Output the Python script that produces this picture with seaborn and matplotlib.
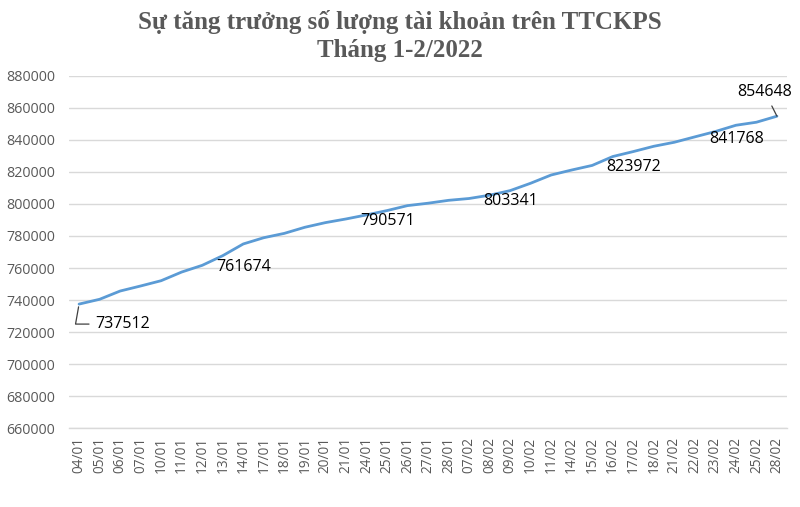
import matplotlib
matplotlib.use("Agg")
import matplotlib.pyplot as plt
import seaborn as sns
import numpy as np
import pandas as pd

dates = ["04/01", "05/01", "06/01", "07/01", "10/01", "11/01", "12/01", "13/01",
         "14/01", "17/01", "18/01", "19/01", "20/01", "21/01", "24/01", "25/01",
         "26/01", "27/01", "28/01", "07/02", "08/02", "09/02", "10/02", "11/02",
         "14/02", "15/02", "16/02", "17/02", "18/02", "21/02", "22/02", "23/02",
         "24/02", "25/02", "28/02"]
accounts = [737512, 740500, 745650, 748800, 752100, 757500, 761674, 767700,
            775000, 778900, 781600, 785400, 788300, 790571, 793100, 795800,
            798900, 800400, 802200, 803341, 805400, 808250, 812850, 818000,
            821100, 823972, 829500, 832600, 835900, 838400, 841768, 845100,
            849000, 850900, 854648]
labeled_idx = [0, 6, 13, 19, 25, 30, 34]
y_ticks = [660000, 680000, 700000, 720000, 740000, 760000, 780000, 800000,
           820000, 840000, 860000, 880000]
title_text = "Sự tăng trưởng số lượng tài khoản trên TTCKPS\nTháng 1-2/2022"

df = pd.DataFrame({"pos": np.arange(len(dates)), "accounts": accounts})

sns.set_theme(style="white")
plt.rcParams["font.family"] = ["Open Sans", "DejaVu Sans"]

fig = plt.figure(figsize=(8.0, 5.07), dpi=100)
ax = fig.add_axes([0.086, 0.155, 0.898, 0.696])

sns.lineplot(data=df, x="pos", y="accounts", ax=ax, color="#5B9BD5",
             linewidth=2.0, legend=False)

ax.set_xlim(-0.5, len(dates) - 0.5)
ax.set_ylim(660000, 880000)
ax.set_yticks(y_ticks)
ax.set_yticklabels([str(v) for v in y_ticks], fontsize=10.3, color="#595959")
ax.set_xticks(df["pos"])
ax.set_xticklabels(dates, rotation=90, fontsize=9.8, color="#595959")
ax.tick_params(axis="y", length=0, pad=10)
ax.tick_params(axis="x", length=0, pad=6)
ax.set_xlabel("")
ax.set_ylabel("")
ax.grid(axis="y", color="#d9d9d9", linewidth=1.0)
ax.grid(axis="x", visible=False)
for s in ["top", "right", "left"]:
    ax.spines[s].set_visible(False)
ax.spines["bottom"].set_color("#d9d9d9")
ax.spines["bottom"].set_linewidth(1.0)

label_kw = dict(fontsize=11.5, color="#000000", textcoords="offset pixels")
for i in labeled_idx:
    v = accounts[i]
    if i == 0:
        ax.annotate(str(v), xy=(i, v), xytext=(16, -20), ha="left", va="center",
                    arrowprops=dict(arrowstyle="-", color="#404040", lw=0.9,
                                    connectionstyle="angle,angleA=0,angleB=80,rad=0"),
                    **label_kw)
    elif i == len(dates) - 1:
        ax.annotate(str(v), xy=(i, v), xytext=(-12, 24), ha="center", va="center",
                    arrowprops=dict(arrowstyle="-", color="#404040", lw=0.9,
                                    shrinkA=2, shrinkB=0),
                    **label_kw)
    else:
        ax.annotate(str(v), xy=(i, v), xytext=(14, -2), ha="left", va="center",
                    **label_kw)

fig.text(0.5, 0.929, title_text, ha="center", va="center", fontsize=18,
         fontweight="bold", color="#595959", family="Liberation Serif",
         linespacing=1.33)

fig.savefig("out.png", dpi=100)
